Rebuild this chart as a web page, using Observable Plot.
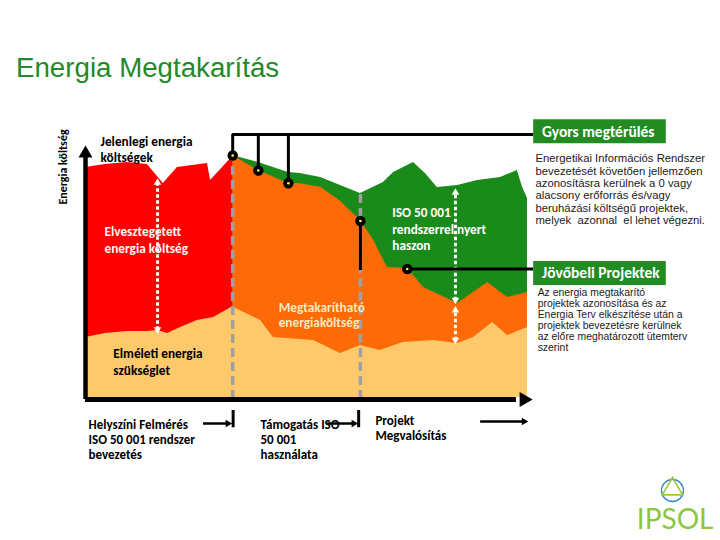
<!DOCTYPE html>
<html><head><meta charset="utf-8">
<script src="https://cdn.jsdelivr.net/npm/d3@7"></script>
<script src="https://cdn.jsdelivr.net/npm/@observablehq/plot@0.6"></script>
<style>
body{margin:0;background:#fff;width:720px;height:540px;overflow:hidden;font-family:"Liberation Sans",Arial,sans-serif}
#head{position:relative;height:100px}
#title{position:absolute;left:16px;top:54px;font-size:27.7px;line-height:1;color:#24892a;white-space:nowrap}
</style></head><body>
<div id="head"><div id="title">Energia Megtakarítás</div></div>
<div id="chart"></div>
<script>
// x: time (0-100), y: energy cost (0-100)
const needX = [0, 4.5, 9.5, 14, 16.3, 18.6, 21.5, 25.3, 29, 33, 33.5, 39.6, 42.5, 51.6, 57.7, 62.2, 66.7, 71.9, 78.7, 84.2, 87.8, 92.1, 95.5, 100];
const needY = [24, 25.6, 26.4, 26.4, 26.8, 25.6, 28, 30.8, 32, 36, 36, 30.8, 24, 22.8, 17.6, 20.8, 18.8, 22, 22.8, 21.6, 24, 30, 24.8, 28];
const wasteX = [0, 4.5, 9.5, 14, 17.6, 20.8, 27.6, 28.3, 33.3];
const wasteY = [92, 93.2, 94, 93.2, 85.6, 92, 93.6, 86.8, 96.4];
const currentX = [33.3, 39.1, 45.9, 48.6, 53.2, 62.2, 67.4, 69.7, 74.2, 76.9, 79.6, 84.2, 88.7, 93.9, 97.7, 98.9, 100];
const currentY = [96.8, 94, 90, 89.6, 88, 81.6, 86, 90, 94, 89.6, 84, 84.8, 86.8, 88, 90.8, 84, 79.6];
const reducedX = [33.3, 39.1, 45.9, 48.6, 53.2, 57.7, 62.2, 65.2, 68.3, 72.9, 76.5, 84.2, 91, 95.5, 100];
const reducedY = [96.8, 90.8, 85.6, 85.5, 84.1, 78.5, 70.8, 62.8, 52, 51.6, 44, 37.6, 46, 40, 42];

// annotation anchors
const phaseX = [33.3, 62.2];
const phaseTop = [96.8, 81.6];
const dotX = [33.3, 39.1, 45.9, 62.2, 72.8];
const dotY = [96.8, 90.8, 85.7, 70.6, 51.4];
const gapX = [16.3, 83.7, 83.7];
const gapLo = [25.7, 37.5, 21.5];
const gapHi = [87.5, 83.5, 36.4];
const connectorY = 105.2;
const boxLeft = 101.4, boxRight = 131.4;
const boxes = [
  {y1: 101.5, y2: 111.1, label: "Gyors megtérülés"},
  {y1: 44.8, y2: 54.4, label: "Jövőbeli Projektek"}
];
const chartLabels = [
  {x: 3.4, y: 99.4, text: "Jelenlegi energia\nköltségek", fill: "#000", lh: 1.16},
  {x: 4.3, y: 63.4, text: "Elvesztegetett\nenergia költség", fill: "#fff4f4", lh: 1.3},
  {x: 6.3, y: 14.5, text: "Elméleti energia\nszükséglet", fill: "#000", lh: 1.28},
  {x: 43.7, y: 33.1, text: "Megtakarítható\nenergiaköltség", fill: "#fde8bd", lh: 1.16},
  {x: 69.4, y: 67.7, text: "ISO 50 001\nrendszerrel nyert\nhaszon", fill: "#fff", lh: 1.24}
];
const phaseLabels = [
  {x: 0.7, y: -16.5, text: "Helyszíni Felmérés\nISO 50 001 rendszer\nbevezetés"},
  {x: 39.6, y: -16.5, text: "Támogatás ISO\n50 001\nhasználata"},
  {x: 65.6, y: -12.1, text: "Projekt\nMegvalósítás"}
];
const phaseArrows = [
  {x1: 26.7, x2: 32.2, y: -10.4},
  {x1: 54.8, x2: 60.7, y: -10.4},
  {x1: 89.4, x2: 99.2, y: -9.6}
];
const phaseBars = [33.4, 61.8];
const notes = [
  {x: 101.8, y: 83.3, size: 11.3, lh: 1.09, text: "Energetikai Információs Rendszer\nbevezetését követően jellemzően\nazonosításra kerülnek a 0 vagy\nalacsony erőforrás és/vagy\nberuházási költségű projektek,\nmelyek  azonnal  el lehet végezni."},
  {x: 102.3, y: 31.1, size: 10.4, lh: 1.06, text: "Az energia megtakarító\nprojektek azonosítása és az\nEnergia Terv elkészítése után a\nprojektek bevezetésre kerülnek\naz előre meghatározott ütemterv\nszerint"}
];

const pts = (xs, ys) => xs.map((x, i) => ({x, y: ys[i]}));
const need = pts(needX, needY), waste = pts(wasteX, wasteY), current = pts(currentX, currentY), reduced = pts(reducedX, reducedY);
const phases = phaseX.map((x, i) => ({x, top: phaseTop[i]}));
const dots = pts(dotX, dotY);
const gaps = gapX.map((x, i) => ({x, lo: gapLo[i], hi: gapHi[i]}));

const GREEN = "#1a8a1a", ORANGE = "#fd6a07", RED = "#fe0000", BEIGE = "#fdc96b";
const F = "Carlito, Lato, sans-serif";
const N = "'Liberation Sans Narrow', 'Arial Narrow', 'Liberation Sans', sans-serif";

const chart = Plot.plot({
  width: 720, height: 440,
  marginLeft: 85, marginRight: 193, marginTop: 47, marginBottom: 143,
  x: {domain: [0, 100], axis: null},
  y: {domain: [0, 100], axis: null},
  style: {overflow: "visible", background: "transparent"},
  marks: [
    Plot.areaY(current, {x: "x", y: "y", fill: GREEN}),
    Plot.areaY(reduced, {x: "x", y: "y", fill: ORANGE}),
    Plot.areaY(waste, {x: "x", y: "y", fill: RED}),
    Plot.areaY(need, {x: "x", y: "y", fill: BEIGE}),
    Plot.ruleX(phases, {x: "x", y1: -0.8, y2: "top", stroke: "#a0a0a0", strokeWidth: 3.5, strokeDasharray: "9,5"}),
    Plot.ruleX(gaps, {x: "x", y1: d => d.lo + 1.2, y2: d => d.hi - 1.2, stroke: "#fff", strokeWidth: 3, strokeDasharray: "3.5,2.5"}),
    Plot.dot(gaps, {x: "x", y: d => d.hi - 1.5, symbol: "triangle", r: 2.8, fill: "#fff", rotate: 0}),
    Plot.dot(gaps, {x: "x", y: d => d.lo + 1.5, symbol: "triangle", r: 2.8, fill: "#fff", rotate: 180}),
    // axes
    Plot.ruleX([0], {y1: -0.8, y2: 96.5, stroke: "#000", strokeWidth: 4.5}),
    Plot.ruleY([-0.8], {x1: 0, x2: 97.5, stroke: "#000", strokeWidth: 5}),
    Plot.dot([{x: 0, y: 97.6}], {x: "x", y: "y", symbol: "triangle", r: 5.2, fill: "#000"}),
    Plot.dot([{x: 99.2, y: -0.8}], {x: "x", y: "y", symbol: "triangle", r: 5.6, fill: "#000", rotate: 90}),
    Plot.text(["Energia költség"], {x: -5, y: 92.2, rotate: -90, fontFamily: F, fontWeight: "bold", fontSize: 12, fill: "#000"}),
    // connectors
    Plot.ruleX(dots.slice(0, 3), {x: "x", y1: "y", y2: connectorY, stroke: "#000", strokeWidth: 3}),
    Plot.ruleY([connectorY], {x1: dotX[0], x2: boxLeft, stroke: "#000", strokeWidth: 3}),
    Plot.ruleX([dots[3]], {x: "x", y1: "y", y2: 50.8, stroke: "#000", strokeWidth: 3}),
    Plot.ruleY([dots[4]], {y: "y", x1: "x", x2: boxLeft, stroke: "#000", strokeWidth: 3}),
    Plot.dot(dots, {x: "x", y: "y", r: 5.2, fill: "#000"}),
    Plot.dot(dots, {x: "x", y: "y", r: 1.3, fill: "#ffff66"}),
    // chart labels
    ...chartLabels.map(d => Plot.text([d], {x: "x", y: "y", text: "text", fill: d.fill, textAnchor: "start", lineAnchor: "middle", lineHeight: d.lh, fontFamily: F, fontWeight: "bold", fontSize: 13.3})),
    // phase labels
    Plot.text(phaseLabels, {x: "x", y: "y", text: "text", textAnchor: "start", lineAnchor: "middle", lineHeight: 1.16, fontFamily: F, fontWeight: "bold", fontSize: 13, fill: "#000"}),
    Plot.ruleY(phaseArrows, {x1: "x1", x2: "x2", y: "y", stroke: "#000", strokeWidth: 2.5}),
    Plot.dot(phaseArrows, {x: "x2", y: "y", symbol: "triangle", r: 2.8, fill: "#000", rotate: 90}),
    Plot.ruleX(phaseBars, {x: d => d, y1: -5.2, y2: -12.1, stroke: "#000", strokeWidth: 3}),
    // right boxes
    Plot.rect(boxes, {x1: boxLeft, x2: boxRight, y1: "y1", y2: "y2", fill: "#228b22"}),
    Plot.text(boxes, {x: 103.3, y: d => (d.y1 + d.y2) / 2, text: "label", textAnchor: "start", fill: "#fff", fontFamily: F, fontWeight: "bold", fontSize: 15.5}),
    ...notes.map(d => Plot.text([d], {x: "x", y: "y", text: "text", textAnchor: "start", lineAnchor: "middle", lineHeight: d.lh, fontFamily: N, fontSize: d.size, fill: "#1a1a1a"})),
    // logo
    Plot.dot([{x: 132.8, y: -37.2}], {x: "x", y: "y", r: 11, stroke: "#3a86c0", strokeWidth: 1.3, fill: "none"}),
    Plot.dot([{x: 132.8, y: -36.6}], {x: "x", y: "y", symbol: "triangle", r: 7.5, stroke: "#9cc83a", strokeWidth: 1.6, fill: "none"}),
    Plot.text(["IPSOL"], {x: 133.4, y: -49.2, fontFamily: "Lato, sans-serif", fontWeight: 400, fontSize: 28, fill: "#8cc63e"})
  ]
});
document.getElementById("chart").appendChild(chart);
</script></body></html>
